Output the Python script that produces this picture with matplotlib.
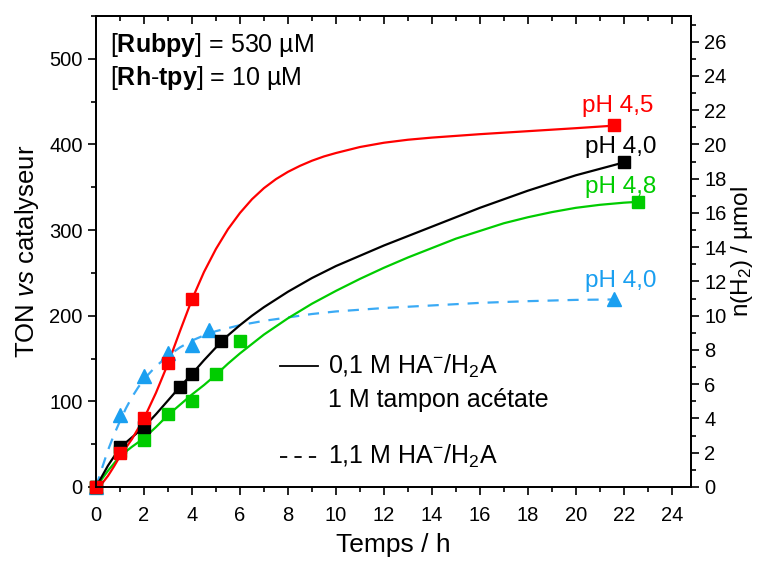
import matplotlib
matplotlib.use("Agg")
import matplotlib.pyplot as plt
from matplotlib.lines import Line2D
from matplotlib.ticker import MultipleLocator

plt.rcParams['font.family'] = ['Liberation Sans', 'DejaVu Sans']
plt.rcParams['mathtext.fontset'] = 'custom'
plt.rcParams['mathtext.rm'] = 'Liberation Sans'
plt.rcParams['mathtext.it'] = 'Liberation Sans:italic'
plt.rcParams['mathtext.bf'] = 'Liberation Sans:bold'

# ---- data (measured points) ----
red_t = [0, 1, 2, 3, 4, 21.6]
red_y = [0, 40, 81, 145, 220, 423]
black_t = [0, 1, 2, 3.5, 4, 5.2, 22]
black_y = [0, 47, 70, 117, 132, 170, 379]
green_t = [0, 1, 2, 3, 4, 5, 6, 22.6]
green_y = [0, 42, 55, 85, 100, 132, 170, 333]
blue_t = [0, 1, 2, 3, 4, 4.7, 21.6]
blue_y = [0, 84, 130, 157, 166, 183, 220]

# ---- fitted curves ----
red_fit_t = [0, 0.25, 0.5, 0.75, 1, 1.5, 2, 2.5, 3, 3.5, 4, 4.5, 5, 5.5, 6, 6.5, 7, 7.5, 8, 8.5, 9, 9.5, 10,
             11, 12, 13, 14, 16, 18, 20, 21.6]
red_fit_y = [0, 4, 13, 24, 36, 56, 80, 110, 144, 182, 219, 251, 278, 301, 320, 336, 349, 359.5, 368, 375, 381, 386, 390,
             397, 402, 405.5, 408, 412, 415.5, 419, 422]
black_fit_t = [0, 0.5, 1, 1.5, 2, 2.5, 3, 3.5, 4, 4.5, 5, 5.5, 6, 6.5, 7, 8, 9, 10, 11, 12, 13, 14, 16, 18, 20, 22]
black_fit_y = [0, 25, 46, 58, 70, 85, 101, 117, 132, 148, 163, 177, 189, 200, 210, 228, 244, 258, 270, 282, 293, 304, 326, 346, 364, 379]
green_fit_t = [0, 0.5, 1, 1.5, 2, 2.5, 3, 3.5, 4, 4.5, 5, 5.5, 6, 6.5, 7, 8, 9, 10, 11, 12, 13, 14, 15, 16, 17, 18, 19, 20, 21, 22, 22.6]
green_fit_y = [0, 19, 36, 47, 57, 70, 84, 96, 108, 119, 131, 144, 156, 167, 178, 197, 214, 229, 243, 256, 268, 279, 290, 299, 308, 315, 321, 326, 329.5, 332, 333]
blue_fit_t = [0, 0.25, 0.5, 0.75, 1, 1.25, 1.5, 1.75, 2, 2.5, 3, 3.5, 4, 4.5, 5, 6, 7, 8, 9, 10, 12, 14, 16, 18, 20, 21.6]
blue_fit_y = [0, 22, 43, 61, 77, 92, 105, 116, 126, 141, 153, 163, 171, 177, 182, 189, 194, 198, 202, 205, 209, 212, 215, 217, 218.5, 219]

RED = '#ff0000'
BLACK = '#000000'
GREEN = '#00cc00'
BLUE = '#1a9ff0'
BLUE_L = '#3aaaf5'

fig = plt.figure(figsize=(7.59, 5.61), dpi=100)
ax = fig.add_axes([96/759, 1-487/561, 595/759, 471/561])

lw = 1.6
ms = 8.5
ax.plot(blue_fit_t, blue_fit_y, color=BLUE_L, lw=lw, ls=(0, (5, 4)), zorder=2)
ax.plot(green_fit_t, green_fit_y, color=GREEN, lw=lw, zorder=2)
ax.plot(black_fit_t, black_fit_y, color=BLACK, lw=lw, zorder=2)
ax.plot(red_fit_t, red_fit_y, color=RED, lw=lw, zorder=2)

ax.plot(blue_t, blue_y, ls='none', marker='^', ms=ms + 1.5, color=BLUE, mec=BLUE, zorder=3, clip_on=False)
ax.plot(green_t, green_y, ls='none', marker='s', ms=ms, color=GREEN, mec=GREEN, zorder=3, clip_on=False)
ax.plot(black_t, black_y, ls='none', marker='s', ms=ms, color=BLACK, mec=BLACK, zorder=3, clip_on=False)
ax.plot(red_t, red_y, ls='none', marker='s', ms=ms, color=RED, mec=RED, zorder=3, clip_on=False)

ax.set_xlim(0, 24.8)
ax.set_ylim(0, 550)

ax.xaxis.set_major_locator(MultipleLocator(2))
ax.xaxis.set_minor_locator(MultipleLocator(1))
ax.yaxis.set_major_locator(MultipleLocator(100))
ax.yaxis.set_minor_locator(MultipleLocator(50))

ax.tick_params(axis='both', which='major', direction='out', length=6, width=1.2, labelsize=14.5,
               top=False, right=False)
ax.tick_params(axis='both', which='minor', direction='out', length=3.5, width=1.2, top=False, right=False)
ax.tick_params(axis='x', which='major', pad=8)
for sp in ax.spines.values():
    sp.set_linewidth(1.3)

# top ticks pointing inward
top = ax.secondary_xaxis('top')
top.xaxis.set_major_locator(MultipleLocator(2))
top.xaxis.set_minor_locator(MultipleLocator(1))
top.tick_params(axis='x', which='major', direction='in', length=6, width=1.2, labeltop=False, labelbottom=False)
top.tick_params(axis='x', which='minor', direction='in', length=3.5, width=1.2)
top.spines['top'].set_linewidth(1.3)

axr = ax.twinx()
axr.set_ylim(0, 27.5)
axr.yaxis.set_major_locator(MultipleLocator(2))
axr.yaxis.set_minor_locator(MultipleLocator(1))
axr.tick_params(which='major', length=6, width=1.2, labelsize=14.5, direction='out')
axr.tick_params(which='minor', length=3.5, width=1.2, direction='out')
for sp in axr.spines.values():
    sp.set_linewidth(1.3)

ax.set_xlabel('Temps / h', fontsize=19, va='center')
ax.xaxis.set_label_coords(0.5, (487 - 545) / 471)
ax.set_ylabel(r'TON $\mathit{vs}$ catalyseur', fontsize=18.5, labelpad=6)
axr.set_ylabel(r'n(H$_2$) / µmol', fontsize=17.5, rotation=90, va='center')
axr.yaxis.set_label_coords(1.085, 0.5)

ax.text(0.0235, 0.938, r'[$\mathbf{Rubpy}$] = 530 µM', transform=ax.transAxes, fontsize=18, ha='left', va='center')
ax.text(0.0235, 0.868, r'[$\mathbf{Rh}$-$\mathbf{tpy}$] = 10 µM', transform=ax.transAxes, fontsize=18, ha='left', va='center')

ax.text(21.75, 445, 'pH 4,5', color=RED, fontsize=17.5, ha='center', va='center')
ax.text(21.87, 397, 'pH 4,0', color=BLACK, fontsize=17.5, ha='center', va='center')
ax.text(21.87, 350, 'pH 4,8', color=GREEN, fontsize=17.5, ha='center', va='center')
ax.text(21.87, 241, 'pH 4,0', color=BLUE, fontsize=17.5, ha='center', va='center')

ax.add_line(Line2D([0.309, 0.373], [0.257, 0.257], transform=ax.transAxes, color=BLACK, lw=1.3))
ax.add_line(Line2D([0.309, 0.373], [0.064, 0.064], transform=ax.transAxes, color=BLACK, lw=1.3, ls=(0, (4, 4))))
ax.text(0.390, 0.257, r'0,1 M HA$^{-}$/H$_2$A', transform=ax.transAxes, fontsize=18, ha='left', va='center')
ax.text(0.390, 0.185, '1 M tampon acétate', transform=ax.transAxes, fontsize=18, ha='left', va='center')
ax.text(0.390, 0.064, r'1,1 M HA$^{-}$/H$_2$A', transform=ax.transAxes, fontsize=18, ha='left', va='center')

fig.savefig('out.png', dpi=100)
